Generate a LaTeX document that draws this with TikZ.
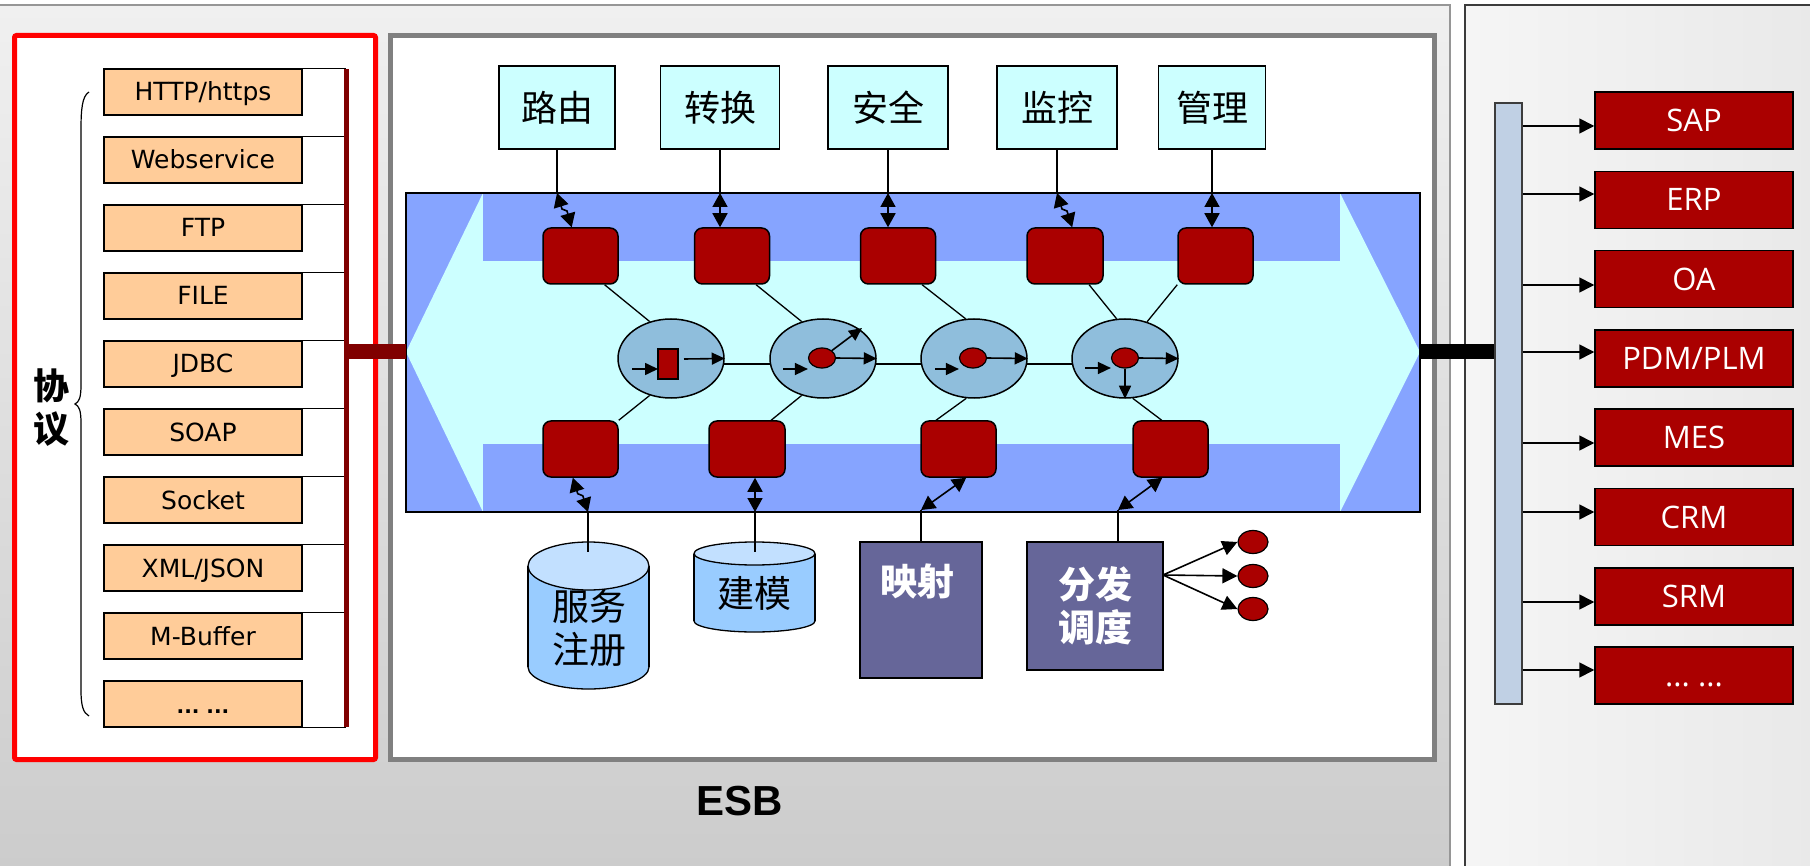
\documentclass[tikz,border=0pt]{standalone}
\usepackage{fontspec}
\setmainfont{DejaVu Sans}
\newfontfamily\cjk{Noto Sans CJK SC}
\newfontfamily\osans{Open Sans}
\newfontfamily\lsans{Liberation Sans}
\usetikzlibrary{arrows.meta,calc,shapes.geometric}
\definecolor{bgtop}{RGB}{240,240,240}
\definecolor{bgbot}{RGB}{204,204,204}
\definecolor{rpa}{RGB}{245,245,245}
\definecolor{rpb}{RGB}{233,233,233}
\definecolor{esbblue}{RGB}{134,164,255}
\definecolor{esbcyan}{RGB}{204,255,255}
\definecolor{boxred}{RGB}{170,0,0}
\definecolor{darkred}{RGB}{128,0,0}
\definecolor{ellfill}{RGB}{143,190,220}
\definecolor{cylfill}{RGB}{153,204,255}
\definecolor{cyltop}{RGB}{194,224,255}
\definecolor{purp}{RGB}{102,102,153}
\definecolor{proto}{RGB}{255,204,153}
\definecolor{busfill}{RGB}{192,208,228}
\definecolor{framegray}{RGB}{128,128,128}
\definecolor{panelline}{RGB}{150,150,150}
\definecolor{rpline}{RGB}{60,60,60}
\begin{document}
\begin{tikzpicture}[x=1pt,y=-1pt,
  protobox/.style={draw=black, line width=1.5pt, fill=proto, minimum width=198pt, minimum height=46pt, inner sep=0pt, text height=18pt, text depth=0pt, font=\fontsize{25}{30}\selectfont},
  funcbox/.style={draw=black, line width=1.5pt, fill=esbcyan, minimum height=83pt, inner sep=0pt, font=\cjk\fontsize{36}{40}\selectfont},
  redbox/.style={draw=black, line width=1.5pt, fill=boxred, rounded corners=8pt, minimum width=75pt, minimum height=56pt, inner sep=0pt},
  sysbox/.style={draw=black, line width=1.5pt, fill=boxred, minimum width=198pt, minimum height=57pt, inner sep=0pt, text=white, text height=22pt, text depth=0pt, font=\osans\fontsize{31}{36}\selectfont},
  ell/.style={ellipse, draw=black, line width=1.5pt, fill=ellfill, minimum width=106pt, minimum height=79pt, inner sep=0pt},
  dot/.style={ellipse, draw=black, line width=1.2pt, fill=boxred, minimum width=27pt, minimum height=20pt, inner sep=0pt},
  bigdot/.style={ellipse, draw=black, line width=1.2pt, fill=boxred, minimum width=30pt, minimum height=23pt, inner sep=0pt},
  purpbox/.style={draw=black, line width=1.5pt, fill=purp, inner sep=0pt},
  link/.style={line width=1.3pt},
  dbl/.style={line width=1.6pt, arrows={Triangle[length=14pt,width=15pt]-Triangle[length=14pt,width=15pt]}},
  arr/.style={line width=1.6pt, arrows={-Triangle[length=15pt,width=15pt]}},
  sarr/.style={line width=1.6pt, arrows={-Triangle[length=13pt,width=12pt]}},
  cjkw/.style={text=white, font=\cjk\bfseries\fontsize{37}{43}\selectfont, align=center},
  cjkb/.style={text=black, font=\cjk\fontsize{37}{43}\selectfont, align=center}
]
\useasboundingbox (0,0) rectangle (1810,866);
% ---------- backgrounds
\fill[white] (0,0) rectangle (1810,866);
\shade[top color=bgtop, bottom color=bgbot] (-5,5) rectangle (1450,870);
\draw[panelline, line width=1.5pt] (-5,5) -- (1450,5) -- (1450,870);
\shade[left color=rpa, right color=rpb] (1465,5) rectangle (1815,870);
\draw[rpline, line width=1.5pt] (1465,870) -- (1465,5) -- (1815,5);
% ---------- frames
\draw[red, line width=5pt, fill=white, rounded corners=2pt] (14.5,35.5) rectangle (375.5,759.5);
\draw[framegray, line width=5pt, fill=white] (390.5,35.5) rectangle (1434.5,759.5);
% ---------- ESB bus band
\fill[esbblue] (406,193) rectangle (1420,512);
\fill[esbcyan] (483,193) -- (1340,193) -- (1420,352) -- (1340,512) -- (483,512) -- (406,352) -- cycle;
\fill[esbblue] (483,193) rectangle (1340,261);
\fill[esbblue] (483,444) rectangle (1340,512);
\draw[line width=1.5pt] (406,193) rectangle (1420,512);
\coordinate (esbl) at (406,352);
\coordinate (esbr) at (1420,352);
% ---------- top function boxes
\node[funcbox, minimum width=116pt] (lu) at (557,107.5) {路由};
\node[funcbox, minimum width=119pt] (zh) at (720,107.5) {转换};
\node[funcbox, minimum width=120pt] (aq) at (888,107.5) {安全};
\node[funcbox, minimum width=120pt] (jk) at (1057,107.5) {监控};
\node[funcbox, minimum width=107pt] (gl) at (1212,107.5) {管理};
% ---------- red boxes
\node[redbox] (r1) at (580.5,256) {};
\node[redbox] (r2) at (732,256) {};
\node[redbox] (r3) at (898,256) {};
\node[redbox, minimum width=76pt] (r4) at (1065,256) {};
\node[redbox] (r5) at (1215.5,256) {};
\node[redbox] (b1) at (580.5,449) {};
\node[redbox, minimum width=76pt] (b2) at (747,449) {};
\node[redbox] (b3) at (958.5,449) {};
\node[redbox] (b4) at (1170.5,449) {};
% top connectors
\coordinate (t1) at (557,193);
\coordinate (t2) at (720,193);
\coordinate (t3) at (888,193);
\coordinate (t4) at (1057,193);
\coordinate (t5) at (1212,193);
\draw[link] (lu.south) -- (t1);
\draw[link] (zh.south) -- (t2);
\draw[link] (aq.south) -- (t3);
\draw[link] (jk.south) -- (t4);
\draw[link] (gl.south) -- (t5);
\draw[dbl] (t1) -- ++(5,16) -- ++(5,2) -- (r1.107);
\draw[dbl] (t2) -- (t2 |- r2.north);
\draw[dbl] (t3) -- (t3 |- r3.north);
\draw[dbl] (t4) -- ++(5,16) -- ++(5,2) -- (r4.76);
\draw[dbl] (t5) -- (t5 |- r5.north);
% ---------- ellipses
\node[ell] (e1) at (671,358.5) {};
\node[ell] (e2) at (823,358.5) {};
\node[ell] (e3) at (974,358.5) {};
\node[ell] (e4) at (1125,358.5) {};
\draw[link] (e1.-6) -- (e2.186);
\draw[link] (e2.-6) -- (e3.186);
\draw[link] (e3.-6) -- (e4.186);
\draw[link] (r1.-50) -- (e1.120);
\draw[link] (r2.-50) -- (e2.120);
\draw[link] (r3.-50) -- (e3.102);
\draw[link] (r4.-50) -- (e4.102);
\draw[link] (r5.south west) -- (e4.59);
\draw[link] (e1.240) -- (b1.north east);
\draw[link] (e2.240) -- (b2.50);
\draw[link] (e3.259) -- (b3.128);
\draw[link] (e4.281) -- (b4.107);
% icons inside ellipses
\node[draw=black, line width=1.2pt, fill=boxred, minimum width=20pt, minimum height=30pt, inner sep=0pt] (e1box) at (668,364) {};
\draw[sarr] (632,369) -- (658,369);
\draw[sarr] (684,359) -- (e1.east);
\node[dot] (e2d) at (822,358) {};
\draw[sarr] (783,369) -- (e2d.west |- 0,369);
\draw[sarr] (e2d.east) -- (e2.east);
\draw[sarr] (e2d.north east) -- (862,328);
\node[dot] (e3d) at (973,358) {};
\draw[sarr] (935,369) -- (e3d.west |- 0,369);
\draw[sarr] (e3d.east) -- (e3.east);
\node[dot] (e4d) at (1125,358) {};
\draw[sarr] (1085,368) -- (e4d.west |- 0,368);
\draw[sarr] (e4d.east) -- (e4.east);
\draw[sarr] (e4d.south) -- (e4.south);
% ---------- cylinders
% 服务注册
\fill[cylfill] (528,566) rectangle (649,667);
\draw[link, fill=cylfill] (588.5,667) ellipse [x radius=60.5, y radius=22];
\fill[cylfill] (528,566) rectangle (649,667);
\draw[link] (528,566) -- (528,667);
\draw[link] (649,566) -- (649,667);
\draw[link, fill=cyltop] (588.5,566) ellipse [x radius=60.5, y radius=24];
\node[cjkb] (fwzc) at (589,628.5) {服务\\注册};
% 建模
\fill[cylfill] (694,553.5) rectangle (815,621);
\draw[link, fill=cylfill] (754.5,621) ellipse [x radius=60.5, y radius=11];
\fill[cylfill] (694,553.5) rectangle (815,621);
\draw[link] (694,553.5) -- (694,621);
\draw[link] (815,553.5) -- (815,621);
\draw[link, fill=cyltop] (754.5,553.5) ellipse [x radius=60.5, y radius=11.5];
\node[cjkb] (jm) at (754.5,593) {建模};
\coordinate (c1top) at (588,552);
\coordinate (c2top) at (755,552);
% ---------- purple boxes
\node[purpbox, minimum width=122pt, minimum height=136pt] (ys) at (921,610) {};
\node[cjkw] (yst) at (917,581) {映射};
\node[purpbox, minimum width=136pt, minimum height=128pt, cjkw] (fd) at (1095,606) {分发\\调度};
% bottom connectors
\coordinate (c1a) at (588,512);
\coordinate (c2a) at (755,512);
\coordinate (m1) at (921,510);
\coordinate (d1) at (1118,510);
\draw[dbl] (b1.255) -- ++(5,16) -- ++(5,2) -- (c1a);
\draw[link] (c1a) -- (c1top);
\draw[dbl] (b2.south -| c2a) -- (c2a);
\draw[link] (c2a) -- (c2top);
\draw[dbl] (m1) -- (b3.-75);
\draw[link] (m1) -- (ys.north -| m1);
\draw[dbl] (d1) -- (b4.-106);
\draw[link] (d1) -- (fd.north -| d1);
% distribution dots
\node[bigdot] (o1) at (1253,542) {};
\node[bigdot] (o2) at (1253,576) {};
\node[bigdot] (o3) at (1253,609) {};
\coordinate (fo) at (1163,575);
\draw[arr] (fo) -- (o1.west);
\draw[arr] (fo) -- (o2.west);
\draw[arr] (fo) -- (o3.west);
% ---------- protocols
\foreach \t [count=\i from 0] in {HTTP/https,Webservice,FTP,FILE,JDBC,SOAP,Socket,XML/JSON,M-Buffer}
  \node[protobox] (p\i) at (203,{92+68*\i}) {\t};
\node[protobox] (p9) at (203,704) {\bfseries\fontsize{20}{24}\selectfont ...\ ...};
\coordinate (vbtop) at (346,69);
\coordinate (vbbot) at (346,727);
\foreach \i in {0,1,2,3,4,5,6,7,8}
  \draw[link] ([xshift=-30pt]p\i.north east) -- (p\i.north east -| vbtop);
\draw[link] ([xshift=-30pt]p9.south east) -- (p9.south east -| vbtop);
\draw[darkred, line width=5pt] (vbtop) -- (vbbot);
\draw[darkred, line width=15pt] (vbtop |- esbl) -- (esbl);
% brace and label
\draw[line width=1.2pt] (89,92) .. controls (82,96) and (81,110) .. (81,130) -- (81,385) .. controls (81,398) and (79,402) .. (75,404) .. controls (79,406) and (81,410) .. (81,423) -- (81,690) .. controls (81,705) and (83,713) .. (89,716);
\node[font=\cjk\bfseries\fontsize{36}{43}\selectfont, align=center] (xy) at (52,408) {协\\议};
% ---------- ESB label
\node[font=\lsans\bfseries\fontsize{42}{48}\selectfont] (esblabel) at (740,801) {ESB};
% ---------- right side
\node[draw=rpline, line width=1.2pt, fill=busfill, minimum width=27pt, minimum height=601pt, inner sep=0pt] (bus) at (1508.5,403.5) {};
\draw[line width=15pt] (esbr) -- (bus.west |- esbr);
\node[sysbox] (s1) at (1694,120.5) {SAP};
\node[sysbox] (s2) at (1694,199.8) {ERP};
\node[sysbox] (s3) at (1694,279.1) {OA};
\node[sysbox] (s4) at (1694,358.4) {PDM/PLM};
\node[sysbox] (s5) at (1694,437.7) {MES};
\node[sysbox] (s6) at (1694,517) {CRM};
\node[sysbox] (s7) at (1694,596.3) {SRM};
\node[sysbox] (s8) at (1694,675.6) {...\ ...};
\coordinate (a1) at ($(s1.west)+(0,5.5)$);
\coordinate (a2) at ($(s2.west)+(0,-5.8)$);
\coordinate (a3) at ($(s3.west)+(0,5.9)$);
\coordinate (a4) at ($(s4.west)+(0,-6.4)$);
\coordinate (a5) at ($(s5.west)+(0,5.3)$);
\coordinate (a6) at ($(s6.west)+(0,-5)$);
\coordinate (a7) at ($(s7.west)+(0,5.7)$);
\coordinate (a8) at ($(s8.west)+(0,-5.6)$);
\foreach \k in {1,2,3,4,5,6,7,8}
  \draw[arr] (bus.east |- a\k) -- (a\k);
\end{tikzpicture}
\end{document}
